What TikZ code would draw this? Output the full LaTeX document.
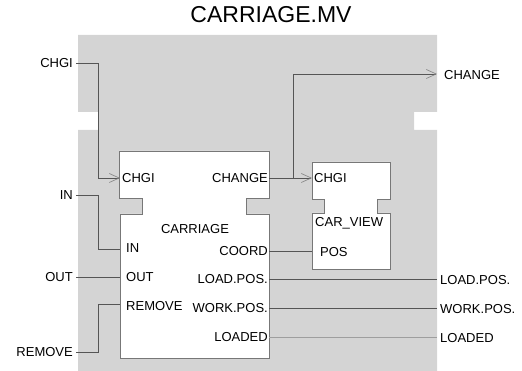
\documentclass[tikz,border=0pt]{standalone}
\usepackage{fontspec}
\setmainfont{Liberation Sans}
\usetikzlibrary{arrows.meta}

\definecolor{panelgray}{HTML}{D4D4D4}
\definecolor{wiregray}{HTML}{555555}
\definecolor{edgegray}{HTML}{777777}

\tikzset{
    lbl/.style={font=\fontsize{13}{15}\selectfont, inner sep=0pt},
    extlbl/.style={lbl, inner xsep=3pt},
    wire/.style={draw=wiregray, line width=0.8pt},
    faintwire/.style={draw=black!38, line width=0.8pt},
    blockline/.style={draw=edgegray, line width=0.8pt, fill=white},
    barb/.style={-{Straight Barb[length=10pt, width=9pt, line width=0.6pt, color=black!50]}}
}

\begin{document}
\begin{tikzpicture}[x=1pt, y=-1pt]
    \useasboundingbox (0, 0) rectangle (522, 371);

    % Title
    \node[font=\fontsize{23}{26}\selectfont] (title) at (271, 15) {CARRIAGE.MV};

    % Gray panel with the two notches
    \fill[panelgray] (78, 35) -- (437, 35) -- (437, 112) -- (414, 112) -- (414, 130)
        -- (437, 130) -- (437, 371) -- (78, 371) -- (78, 130) -- (98, 130)
        -- (98, 112) -- (78, 112) -- cycle;

    % CARRIAGE block
    \begin{scope}[shift={(119, 151)}]
        \draw[blockline] (0, 0) -- (150, 0) -- (150, 47) -- (127, 47) -- (127, 63)
            -- (150, 63) -- (150, 207) -- (1, 207) -- (1, 63) -- (23, 63)
            -- (23, 47) -- (0, 47) -- cycle;

        % Ports
        \coordinate (carr-chgi) at (1, 27);
        \coordinate (carr-change) at (150, 27);
        \coordinate (carr-in) at (1, 98);
        \coordinate (carr-out) at (1, 126);
        \coordinate (carr-remove) at (1, 153);
        \coordinate (carr-coord) at (150, 100);
        \coordinate (carr-loadpos) at (150, 128);
        \coordinate (carr-workpos) at (150, 157);
        \coordinate (carr-loaded) at (150, 186);

        % Texts
        \node[lbl, anchor=west] (carr-chgi-t) at (3, 27) {CHGI};
        \node[lbl, anchor=east] (carr-change-t) at (149, 27) {CHANGE};
        \node[lbl] (carr-name) at (76, 78) {CARRIAGE};
        \node[lbl, anchor=west] (carr-in-t) at (7, 97) {IN};
        \node[lbl, anchor=west] (carr-out-t) at (7, 126) {OUT};
        \node[lbl, anchor=west] (carr-remove-t) at (7, 155) {REMOVE};
        \node[lbl, anchor=east] (carr-coord-t) at (149, 100) {COORD};
        \node[lbl, anchor=east] (carr-loadpos-t) at (149, 128) {LOAD.POS.};
        \node[lbl, anchor=east] (carr-workpos-t) at (149, 157) {WORK.POS.};
        \node[lbl, anchor=east] (carr-loaded-t) at (149, 186) {LOADED};
    \end{scope}

    % CAR_VIEW block
    \begin{scope}[shift={(312, 162)}]
        \draw[blockline] (0, 0) -- (78, 0) -- (78, 37) -- (65, 37) -- (65, 51)
            -- (78, 51) -- (78, 107) -- (0, 107) -- (0, 51) -- (12, 51)
            -- (12, 37) -- (0, 37) -- cycle;

        \coordinate (view-chgi) at (0, 16);
        \coordinate (view-pos) at (0, 89);

        \node[lbl, anchor=west] (view-chgi-t) at (2, 16) {CHGI};
        \node[lbl, anchor=west] (view-name) at (3, 61) {CAR\_VIEW};
        \node[lbl, anchor=west] (view-pos-t) at (8, 90) {POS};
    \end{scope}

    % Outside labels
    \node[extlbl, anchor=east] (chgi) at (76, 63) {CHGI};
    \node[extlbl, anchor=east] (in) at (76, 195) {IN};
    \node[extlbl, anchor=east] (out) at (76, 277) {OUT};
    \node[extlbl, anchor=east] (remove) at (76, 352) {REMOVE};
    \node[extlbl, anchor=west] (change) at (441, 75) {CHANGE};
    \node[extlbl, anchor=west] (loadpos) at (437, 280) {LOAD.POS.};
    \node[extlbl, anchor=west] (workpos) at (437, 309) {WORK.POS.};
    \node[extlbl, anchor=west] (loaded) at (437, 338) {LOADED};
    \coordinate (change-end) at (437, 74);

    % Connectors
    \draw[wire, barb] (chgi.east) -- ++(22, 0) |- (carr-chgi);
    \draw[wire, barb] (carr-change) -- (view-chgi);
    \draw[wire, barb] (carr-change) -- ++(24, 0) |- (change-end);
    \draw[wire] (in.east) -- ++(22, 0) |- (carr-in);
    \draw[wire] (out.east) -- (carr-out);
    \draw[wire] (remove.east) -- ++(22, 0) |- (carr-remove);
    \draw[wire] (carr-coord) -- (view-pos);
    \draw[wire] (carr-loadpos) -- (carr-loadpos -| loadpos.west);
    \draw[wire] (carr-workpos) -- (carr-workpos -| workpos.west);
    \draw[faintwire] (carr-loaded) -- (carr-loaded -| loaded.west);
\end{tikzpicture}
\end{document}
